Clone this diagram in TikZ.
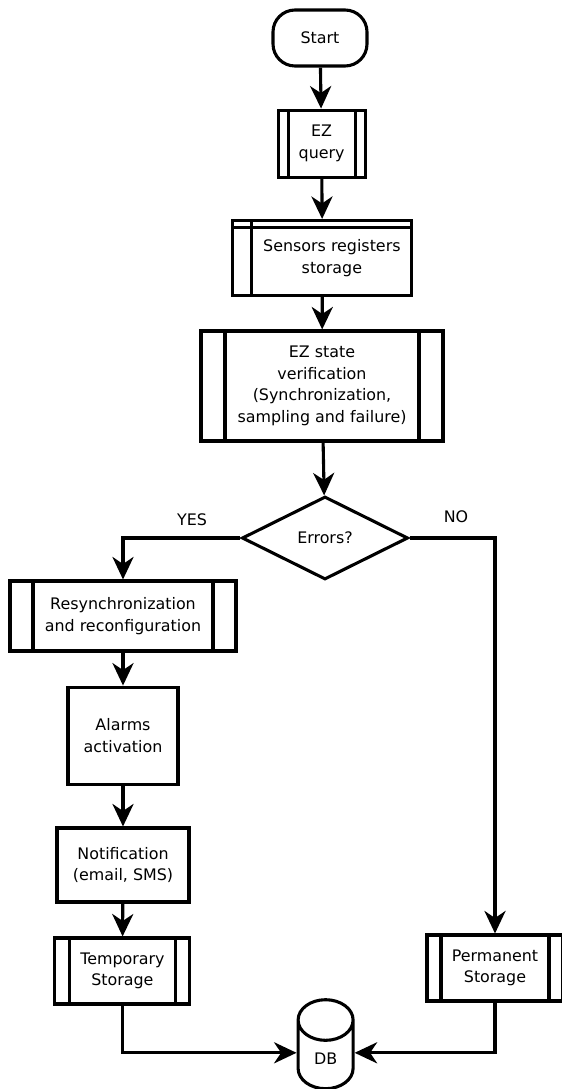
\documentclass[tikz,border=0pt]{standalone}
\usepackage{fontspec}
\setmainfont{DejaVu Sans}
\usepackage{tikz}
\usetikzlibrary{calc}
\usetikzlibrary{arrows.meta}
\usetikzlibrary{shapes}
\usetikzlibrary{shapes.geometric}
\tikzset{>={Stealth[length=16pt, width=15pt, inset=5pt]}}
\tikzstyle{blk} = [rectangle, draw, align=center, inner sep=2pt]
\tikzstyle{term} = [blk, rounded corners=0.55cm]
\tikzstyle{dec} = [diamond, draw, aspect=2, inner sep=0pt]
\tikzstyle{db} = [cylinder, draw, shape border rotate=90, aspect=1.25]
\tikzstyle{flow} = [->]
\tikzset{
  pproc/.style = {blk, path picture = {
    \draw ([xshift=#1]path picture bounding box.north west) -- ([xshift=#1]path picture bounding box.south west);
    \draw ([xshift=-#1]path picture bounding box.north east) -- ([xshift=-#1]path picture bounding box.south east);}},
  istore/.style = {blk, path picture = {
    \draw ([xshift=0.475cm]path picture bounding box.north west) -- ([xshift=0.475cm]path picture bounding box.south west);
    \draw ([yshift=-0.175cm]path picture bounding box.north west) -- ([yshift=-0.175cm]path picture bounding box.north east);}}
}

\begin{document}
\begin{tikzpicture}[line width=2.2pt, font=\fontsize{11.3pt}{15.3pt}\selectfont]
\useasboundingbox (0,0) rectangle (14.025,-27.225);
\node [term, minimum width=2.35cm, minimum height=1.4cm] (start) at (8.0,-0.95) {Start};
\node [pproc=0.25cm, minimum width=2.175cm, minimum height=1.675cm] (ezq) at (8.04,-3.59) {EZ\\query};
\node [istore, minimum width=4.475cm, minimum height=1.875cm] (sens) at (8.06,-6.45) {\hspace*{0.475cm}Sensors registers\\\hspace*{0.475cm}storage};
\node [pproc=0.6cm, minimum width=6.05cm, minimum height=2.75cm] (ver) at (8.05,-9.65) {EZ state\\verification\\(Synchronization,\\sampling and failure)};
\node [dec, minimum width=4.15cm, minimum height=2.075cm] (err) at (8.125,-13.45) {Errors?};
\node [pproc=0.575cm, minimum width=5.65cm, minimum height=1.75cm] (resync) at (3.075,-15.4) {Resynchronization\\and reconfiguration};
\node [blk, minimum width=2.75cm, minimum height=2.425cm] (alarm) at (3.075,-18.39) {Alarms\\activation};
\node [blk, minimum width=3.3cm, minimum height=1.85cm] (notif) at (3.075,-21.625) {Notification\\(email, SMS)};
\node [pproc=0.37cm, minimum width=3.375cm, minimum height=1.65cm] (temp) at (3.06,-24.275) {Temporary\\Storage};
\node [pproc=0.35cm, minimum width=3.4cm, minimum height=1.65cm] (perm) at (12.375,-24.2) {Permanent\\Storage};
\node [db, minimum width=1.375cm, minimum height=2.225cm] (base) at (8.14,-26.52) {\raisebox{0.05cm}[\height][\depth]{DB}};
\node (yes) at (4.8,-13.0) {YES};
\node (no) at (11.4,-12.925) {NO};
\draw [flow] (start) -- (ezq);
\draw [flow] (ezq) -- (sens);
\draw [flow] (sens) -- (ver);
\draw [flow] (ver) -- (err);
\draw [flow] (err.west) -| (resync.north);
\draw [flow] (err.east) -| (perm.north);
\draw [flow] (resync) -- (alarm);
\draw [flow] (alarm) -- (notif);
\draw [flow] (notif) -- (temp);
\draw [flow] (temp.south) |- ([yshift=0.2cm]base.west);
\draw [flow] (perm.south) |- ([yshift=0.2cm]base.east);
\end{tikzpicture}
\end{document}
